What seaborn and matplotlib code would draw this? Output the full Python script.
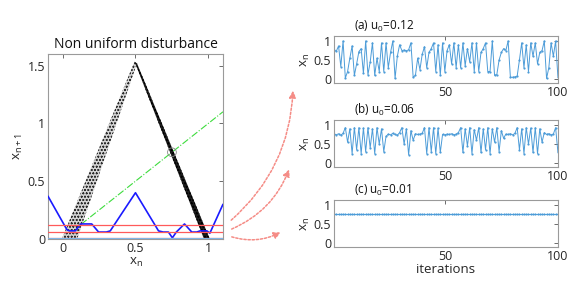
import numpy as np
import matplotlib
matplotlib.use("Agg")
import matplotlib.pyplot as plt
import seaborn as sns

# ---- data ----
# tent map band (left branch and right branch), as polygon outlines
left_band_x = [-0.005, 0.495, 0.505, 0.33, 0.10]
left_band_y = [0.0, 1.54, 1.50, 0.85, 0.0]
right_band_x = [0.495, 0.51, 1.01, 0.97]
right_band_y = [1.53, 1.52, 0.0, 0.0]

# disturbance profile (blue)
dist_x = [-0.1, 0.03, 0.046, 0.087, 0.125, 0.20, 0.247, 0.30, 0.327, 0.50,
          0.658, 0.69, 0.726, 0.753, 0.78, 0.836, 0.886, 0.92, 0.943, 0.99,
          1.01, 1.1]
dist_y = [0.37, 0.08, 0.07, 0.07, 0.13, 0.13, 0.06, 0.06, 0.07, 0.40,
          0.07, 0.06, 0.06, 0.01, 0.06, 0.13, 0.06, 0.06, 0.07, 0.07,
          0.05, 0.30]

diag_x = [0.0, 1.1]
u_levels = [0.12, 0.06, 0.01]
fixed_x = [0.75]
fixed_y = [0.75]

iters = list(range(1, 101))
series_a = [0.76, 0.73, 0.87, 0.33, 1.00, 0.03, 0.20, 0.55, 0.87, 0.10,
            0.40, 0.72, 0.80, 0.15, 1.00, 0.12, 0.45, 0.95, 0.10, 0.55,
            0.20, 0.95, 0.20, 0.95, 0.30, 0.70, 1.00, 0.02, 0.60, 0.90,
            0.75, 0.76, 0.74, 0.77, 0.95, 0.05, 0.10, 0.55, 0.25, 0.65,
            0.85, 0.30, 0.70, 0.80, 0.95, 0.20, 0.90, 0.10, 0.95, 0.20,
            0.75, 0.90, 0.40, 0.95, 0.30, 0.90, 0.30, 0.95, 0.35, 0.80,
            0.45, 0.95, 0.20, 0.95, 0.20, 0.70, 0.80, 0.95, 0.20, 0.20,
            1.00, 0.10, 0.12, 0.50, 0.70, 0.80, 0.75, 1.00, 0.05, 0.05,
            0.06, 0.08, 0.50, 0.95, 0.30, 0.90, 0.20, 0.95, 0.60, 0.95,
            0.40, 0.70, 0.75, 1.00, 0.02, 0.30, 0.95, 0.60, 1.00, 0.07]
series_b = [0.76, 0.74, 0.77, 0.73, 0.78,
            0.93, 0.55, 0.90, 0.25, 0.93, 0.35, 0.93, 0.25, 0.92, 0.30,
            0.93, 0.40, 0.90, 0.25, 0.93, 0.50, 0.90, 0.30,
            0.70,
            0.76, 0.74, 0.78, 0.75, 0.73, 0.80,
            0.93, 0.50, 0.90, 0.22, 0.85, 0.60,
            0.77, 0.75, 0.76, 0.78,
            0.93, 0.25, 0.93, 0.30, 0.93, 0.25, 0.92, 0.28,
            0.75, 0.74, 0.76, 0.75, 0.77, 0.74, 0.76, 0.80,
            0.93, 0.28, 0.90, 0.45, 0.93, 0.25, 0.88, 0.60, 0.93, 0.28,
            0.90, 0.35, 0.93, 0.25, 0.90, 0.55, 0.93, 0.30, 0.85, 0.65,
            0.76, 0.75, 0.77, 0.74, 0.78,
            0.93, 0.35, 0.90, 0.25, 0.93, 0.50, 0.92, 0.28, 0.93, 0.25,
            0.90, 0.55, 0.80,
            0.75, 0.77, 0.74, 0.76,
            0.93, 0.30]
series_c = [0.75] * 100

panel_titles = ["(a) $\\mathregular{u_0}$=0.12",
                "(b) $\\mathregular{u_0}$=0.06",
                "(c) $\\mathregular{u_0}$=0.01"]

# ---- style ----
sns.set_style("white")
plt.rcParams["font.family"] = ["Open Sans", "DejaVu Sans"]
plt.rcParams["hatch.linewidth"] = 0.4
plt.rcParams["xtick.direction"] = "in"
plt.rcParams["ytick.direction"] = "in"

TXT = "#262626"
EDGE = "#9a9a9a"
LINE_BLUE = "#4d9cd8"


def style_axes(ax, fs):
    for s in ax.spines.values():
        s.set_color(EDGE)
        s.set_linewidth(0.8)
    ax.tick_params(axis="both", which="both", direction="in", length=3,
                   width=0.6, color="#555555", labelcolor=TXT,
                   labelsize=fs, top=True, right=True, pad=2)


fig = plt.figure(figsize=(5.86, 2.81), dpi=100)

# ---- left: return map ----
ax = fig.add_axes([0.0819, 0.1495, 0.2986, 0.6584])
sns.lineplot(x=diag_x, y=diag_x, ax=ax, color="#3ddc3d", lw=0.8,
             linestyle="-.", zorder=1)
ax.fill(left_band_x, left_band_y, facecolor="#d4d4d4", edgecolor="#2e2e2e",
        hatch="ooooo", linewidth=0, zorder=2)
ax.fill(right_band_x, right_band_y, facecolor="#1c1c1c", edgecolor="#000000",
        hatch="ooooo", linewidth=0, zorder=2)
sns.lineplot(x=dist_x, y=dist_y, ax=ax, color="#1a1aff", lw=1.2, sort=False,
             zorder=3)
for u in u_levels:
    ax.axhline(u, color="#ff5a5a", lw=0.9, zorder=3)
ax.axhline(0.003, color="#7fb4e6", lw=2.2, zorder=3)
ax.scatter(fixed_x, fixed_y, s=40, facecolors="none", edgecolors="#888888",
           linewidths=0.6, zorder=5)
ax.set_xlim(-0.1, 1.1)
ax.set_ylim(0, 1.6)
ax.set_xticks([0, 0.5, 1])
ax.set_xticklabels(["0", "0.5", "1"])
ax.set_yticks([0, 0.5, 1, 1.5])
ax.set_yticklabels(["0", "0.5", "1", "1.5"])
style_axes(ax, 9)
ax.set_title("Non uniform disturbance", fontsize=10, color="#111111", pad=4)
ax.set_xlabel("$\\mathregular{x_n}$", fontsize=9.5, color=TXT, labelpad=1)
ax.set_ylabel("$\\mathregular{x_{n+1}}$", fontsize=9.5, color=TXT, labelpad=2)

# ---- right: time series ----
bottoms = [0.7046, 0.4057, 0.121]
series = [series_a, series_b, series_c]
for k in range(3):
    axr = fig.add_axes([0.570, bottoms[k], 0.382, 0.166])
    sns.lineplot(x=iters, y=series[k], ax=axr, color=LINE_BLUE, lw=0.7,
                 marker="o", markersize=1.6, markeredgewidth=0)
    axr.set_xlim(1, 100)
    axr.set_ylim(-0.1, 1.12)
    axr.set_xticks([50, 100])
    axr.set_xticklabels(["50", "100"])
    axr.set_yticks([0, 0.5, 1])
    axr.set_yticklabels(["0", "0.5", "1"])
    style_axes(axr, 9)
    axr.set_ylabel("$\\mathregular{x_n}$", fontsize=9.5, color=TXT, labelpad=1)
    axr.set_xlabel("")
    axr.text(0.09, 1.05, panel_titles[k], transform=axr.transAxes,
             fontsize=8.5, color="#111111", ha="left", va="bottom")
axr.set_xlabel("iterations", fontsize=9.5, color=TXT, labelpad=0)

# ---- dotted arrows from the map to the panels ----
arrow_starts = [(0.391, 0.210), (0.391, 0.181), (0.391, 0.160)]
arrow_ends = [(0.500, 0.687), (0.495, 0.406), (0.483, 0.178)]
for st, en in zip(arrow_starts, arrow_ends):
    fig.add_artist(matplotlib.patches.FancyArrowPatch(
        st, en, transform=fig.transFigure, connectionstyle="arc3,rad=0.22",
        arrowstyle="-|>,head_length=4,head_width=2", color="#f58c86",
        linestyle=(0, (1.5, 1.2)), lw=1.1))

fig.savefig("out.png", dpi=100)
